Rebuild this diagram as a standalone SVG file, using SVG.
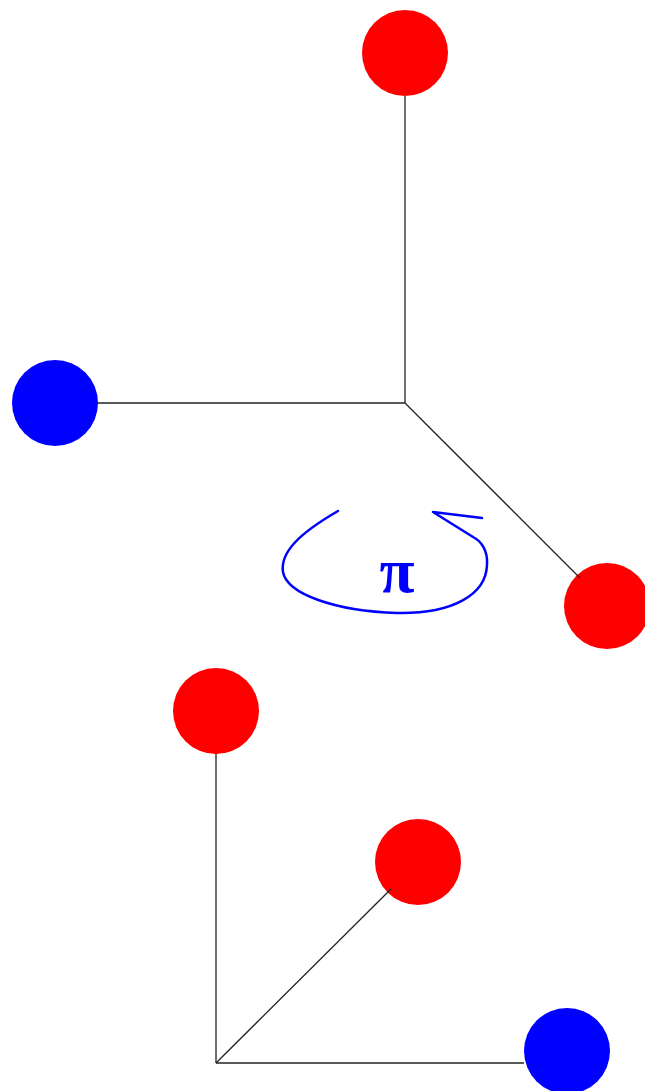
<svg xmlns="http://www.w3.org/2000/svg" width="645" height="1091" viewBox="0 0 645 1091">
<style>
.edge{stroke:#222;stroke-width:1.3;fill:none}
.red{fill:#ff0000}
.blue{fill:#0000ff}
.rot{stroke:#0000ff;stroke-width:2.5;fill:none;stroke-linecap:round;stroke-linejoin:round}
.lbl{font-family:"Liberation Serif",serif;font-weight:bold;fill:#0000ff;font-size:64px;text-anchor:middle}
</style>
<rect width="645" height="1091" fill="#fff"/>
<g id="top-red"><circle class="red" cx="405" cy="53" r="43"/></g>
<g id="left-blue"><circle class="blue" cx="55" cy="403" r="43"/></g>
<g id="right-red"><circle class="red" cx="607" cy="606" r="43"/></g>
<g id="bl-red"><circle class="red" cx="216" cy="711" r="43"/></g>
<g id="mid-red"><circle class="red" cx="418" cy="862" r="43"/></g>
<g id="br-blue"><circle class="blue" cx="567" cy="1051" r="43"/></g>
<g id="connectors">
<line class="edge" x1="405" y1="403" x2="405" y2="96"/>
<line class="edge" x1="405" y1="403" x2="98" y2="403"/>
<line class="edge" x1="405" y1="403" x2="580" y2="578"/>
<line class="edge" x1="216" y1="1063" x2="216" y2="754"/>
<line class="edge" x1="216" y1="1063" x2="524" y2="1063"/>
<line class="edge" x1="216" y1="1063" x2="391" y2="889"/>
</g>
<g id="rotation">
<path class="rot" d="M338,511 C300,533 280,552 283,572 C287,594 335,611 397,613 C452,614 486,595 487,565 C488,550 481,541 473,537 L433,512 L482,518"/>
<text class="lbl" x="397" y="592">π</text>
</g>
</svg>
